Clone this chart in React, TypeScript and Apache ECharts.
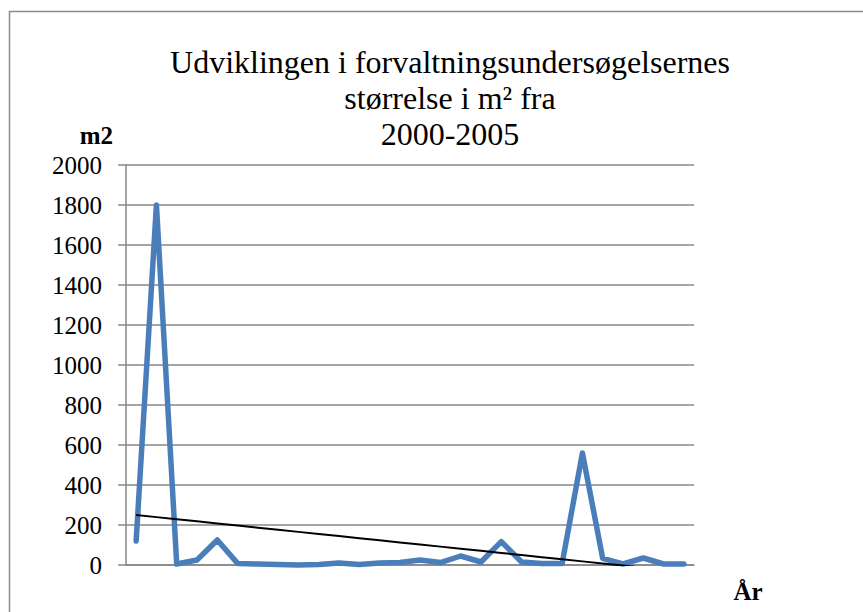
import React, { useEffect, useRef } from "react";
import * as echarts from "echarts";

const titleLines = [
  "Udviklingen i forvaltningsundersøgelsernes",
  "størrelse i m² fra",
  "2000-2005",
];
const yAxisName = "m2";
const xAxisName = "År";

const categories = [
  "1", "2", "3", "4", "5", "6", "7", "8", "9", "10", "11", "12", "13", "14",
  "15", "16", "17", "18", "19", "20", "21", "22", "23", "24", "25", "26", "27", "28",
];

const areaValues = [
  120, 1800, 5, 25, 125, 8, 5, 3, 0, 2, 10, 2, 10, 12,
  25, 12, 45, 15, 117, 15, 8, 8, 560, 33, 5, 35, 5, 5,
];

const yTicks = { min: 0, max: 2000, interval: 200 };

function linearTrend(values: number[]): number[] {
  const n = values.length;
  let sx = 0, sy = 0, sxy = 0, sxx = 0;
  values.forEach((v, i) => {
    sx += i;
    sy += v;
    sxy += i * v;
    sxx += i * i;
  });
  const slope = (n * sxy - sx * sy) / (n * sxx - sx * sx);
  const intercept = (sy - slope * sx) / n;
  return values.map((_, i) => intercept + slope * i);
}

const FONT = "'Liberation Serif', serif";
const GRID_COLOR = "#878787";

export default function App() {
  const ref = useRef<HTMLDivElement>(null);

  useEffect(() => {
    if (!ref.current) return;
    const chart = echarts.init(ref.current, undefined, { renderer: "svg" });
    const trend = linearTrend(areaValues);

    chart.setOption({
      animation: false,
      backgroundColor: "#ffffff",
      textStyle: { fontFamily: FONT },
      title: {
        text: titleLines.join("\n"),
        left: 450,
        top: 44,
        padding: 0,
        textAlign: "center",
        textStyle: {
          fontFamily: FONT,
          fontSize: 32,
          lineHeight: 36,
          fontWeight: "normal",
          color: "#000",
        },
      },
      grid: { left: 126, right: 169, top: 165, bottom: 47, containLabel: false },
      xAxis: {
        type: "category",
        data: categories,
        boundaryGap: true,
        axisLine: { show: true, lineStyle: { color: GRID_COLOR, width: 1.5 } },
        axisTick: { show: false },
        axisLabel: { show: false },
        splitLine: { show: false },
      },
      yAxis: {
        type: "value",
        min: yTicks.min,
        max: yTicks.max,
        interval: yTicks.interval,
        axisLine: { show: true, lineStyle: { color: GRID_COLOR, width: 1.5 } },
        axisTick: { show: true, inside: false, length: 8, lineStyle: { color: GRID_COLOR, width: 1.5 } },
        axisLabel: {
          margin: 24,
          fontFamily: FONT,
          fontSize: 25,
          color: "#000",
          formatter: (v: number) => "{t|" + String(v) + "}",
          rich: {
            t: { fontFamily: FONT, fontSize: 25, color: "#000" },
          },
        },
        splitLine: { show: true, lineStyle: { color: GRID_COLOR, width: 1.5 } },
      },
      graphic: [
        {
          type: "rect",
          silent: true,
          shape: { x: 9.5, y: 11.5, width: 1000, height: 1000 },
          style: { fill: "none", stroke: "#8a8a8a", lineWidth: 1.5 },
        },
        {
          type: "text",
          x: 113,
          y: 135,
          style: {
            text: yAxisName,
            font: `bold 25px ${FONT}`,
            fill: "#000",
            textAlign: "right",
            textVerticalAlign: "middle",
          },
        },
        {
          type: "text",
          x: 748,
          y: 591,
          style: {
            text: xAxisName,
            font: `bold 25px ${FONT}`,
            fill: "#000",
            textAlign: "center",
            textVerticalAlign: "middle",
          },
        },
      ],
      series: [
        {
          name: "m2",
          type: "line",
          data: areaValues,
          symbol: "none",
          clip: false,
          z: 3,
          lineStyle: { color: "#4a7ebb", width: 5.5, cap: "round", join: "round" },
        },
        {
          name: "Lineær tendens",
          type: "line",
          data: trend,
          symbol: "none",
          clip: true,
          z: 4,
          lineStyle: { color: "#000", width: 2 },
        },
      ],
    });

    return () => chart.dispose();
  }, []);

  return (
    <div
      ref={ref}
      style={{ position: "absolute", left: 0, top: 0, width: 863, height: 612 }}
    />
  );
}
